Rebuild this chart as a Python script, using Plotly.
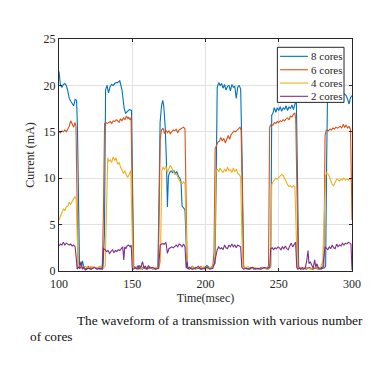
import plotly.graph_objects as go

# ---------------- data ----------------
t_8 = [100, 101, 102, 103, 104, 105, 106, 107, 108, 109, 110, 111, 112, 112.6, 113.3, 114, 115, 116, 117, 118,
       120, 122, 124, 126, 128, 130, 131, 131.8, 132.8, 133.8, 135, 136, 137, 138, 139, 140, 141.5, 143, 144.5,
       145.5, 147, 148, 149.5, 150.3, 151, 152, 153, 154, 155, 156, 157, 158, 160, 162, 164, 166, 167.5, 168.3,
       169, 170, 170.8, 171.5, 172.5, 173.3, 174, 174.7, 175.5, 176.5, 177.5, 178.5, 179.5, 180.5, 181.5, 182.5,
       183.3, 184, 185, 186, 186.8, 187.5, 189, 191, 193, 195, 197, 199, 201, 203, 205, 206.5, 207.3, 208, 209,
       210, 211, 212, 213, 214, 215, 216, 217, 218, 219, 220, 221, 222, 223, 224, 225, 226, 227, 229, 231, 233,
       235, 237, 239, 241, 243, 244.5, 245.2, 246, 247, 248, 249, 250, 251, 252, 253, 254, 255, 256, 257, 258,
       259, 260, 261, 262, 262.8, 263.6, 265, 267, 269, 271, 273, 275, 277, 279, 281, 282, 282.7, 283.3, 284,
       286, 288, 290, 292, 294, 296, 297, 298, 299, 300]
i_8 = [21.5, 20.0, 19.8, 20.1, 20.2, 20.0, 19.4, 18.6, 18.3, 18.1, 17.8, 18.5, 18.4, 15.5, 6.0, 0.5, 0.3, 1.1, 0.3, 0.2,
       0.3, 0.2, 0.4, 0.3, 0.2, 0.3, 4.0, 19.5, 20.0, 19.2, 19.9, 20.1, 20.0, 20.2, 20.3, 20.3, 20.5, 19.5, 17.5,
       17.0, 17.2, 17.4, 17.3, 10.0, 0.5, 0.3, 0.4, 0.2, 0.6, 0.3, 0.2, 0.5, 0.2, 0.4, 0.2, 0.3, 0.4, 8.0,
       16.0, 17.8, 18.4, 17.8, 15.5, 12.0, 6.9, 10.2, 10.6, 10.8, 10.6, 10.8, 10.5, 10.7, 10.2, 10.0,
       9.6, 7.0, 6.8, 6.6, 3.0, 0.3, 0.2, 0.5, 0.2, 0.3, 0.2, 0.3, 0.6, 0.3, 0.5, 0.8, 10.0, 19.8, 20.3,
       20.0, 20.2, 19.7, 20.1, 19.5, 19.9, 20.0, 19.4, 20.1, 19.8, 19.9, 18.6, 19.8, 20.0, 19.6, 12.0, 0.5, 0.3, 0.2, 0.4, 0.2,
       0.3, 0.2, 0.4, 0.3, 0.2, 0.5, 16.8, 17.0, 17.6, 17.1, 17.6, 17.3, 17.7, 17.2, 17.6, 17.4, 17.8, 17.3, 17.7, 17.5,
       17.9, 17.4, 18.0, 18.5, 10.0, 0.4, 0.2, 0.3, 0.2, 0.4, 0.2, 0.3, 0.2, 0.4, 0.3, 0.5, 12.0, 19.0, 19.3,
       19.0, 19.4, 19.1, 19.5, 19.2, 18.9, 18.5, 18.0, 18.7, 18.9]

t_6 = [100, 101, 102, 103, 104, 105, 106, 107, 108, 109, 110, 111, 111.6, 112.3, 113, 114, 116, 118, 120, 122, 124,
       126, 128, 129.5, 130.3, 131.1, 132, 133, 134, 135, 136, 137, 138, 139, 140, 141, 142, 143, 144, 145, 146,
       147, 147.5, 148.5, 149.2, 150, 150.8, 152, 154, 156, 158, 160, 162, 164, 166, 167.8, 168.5, 169.1, 170,
       171, 172, 173, 174, 175, 176, 177, 178, 179, 180, 181, 182, 183, 184, 185, 186, 186.8, 187.5, 189, 191,
       193, 195, 197, 199, 201, 203, 205, 205.8, 206.6, 207.5, 208.5, 209.5, 210.5, 211.5, 212.5, 213.5, 214.5,
       215.5, 216.5, 217.5, 218.5, 219.5, 220.5, 221.5, 222.5, 223.5, 224.3, 225.2, 226, 228, 230, 232, 234, 236,
       238, 240, 242, 243, 243.8, 244.7, 246, 247, 248, 249, 250, 251, 252, 253, 254, 255, 256, 257, 258, 259,
       260, 261, 261.6, 262.5, 263.3, 265, 267, 269, 271, 273, 275, 277, 279, 280.8, 281.6, 282.5, 284, 285, 286,
       287, 288, 289, 290, 291, 292, 293, 294, 295, 296, 297, 298, 299, 300]
i_6 = [15.0, 14.9, 15.1, 15.0, 15.2, 15.0, 15.3, 15.6, 16.2, 15.8, 15.5, 16.0, 15.6, 8.0, 0.5, 0.3, 0.4, 0.2, 0.5, 0.3, 0.4,
       0.2, 0.5, 0.3, 6.0, 15.9, 16.0, 15.9, 16.0, 16.1, 15.9, 16.2, 16.1, 16.3, 16.2, 16.0, 16.4, 16.2, 16.5, 16.3, 16.7,
       16.4, 16.6, 16.3, 16.5, 8.0, 0.5, 0.4, 0.2, 0.5, 0.3, 0.2, 0.4, 0.3, 0.2, 0.4, 10.0, 14.3, 15.2,
       15.4, 14.8, 15.2, 14.9, 15.1, 14.8, 15.0, 15.2, 15.1, 15.3, 14.9, 15.2, 15.3, 15.4, 15.5, 15.3, 7.0, 0.4, 0.3, 0.2,
       0.4, 0.3, 0.5, 0.2, 0.4, 0.3, 0.5, 2.0, 13.2, 13.6, 13.9, 14.0, 14.4, 14.0, 14.3, 13.8, 14.3,
       14.6, 14.2, 14.7, 14.9, 15.1, 15.0, 15.2, 15.3, 15.5, 15.2, 6.0, 0.4, 0.3, 0.2, 0.4, 0.3, 0.2,
       0.4, 0.3, 0.2, 0.6, 15.5, 15.8, 15.7, 16.0, 15.9, 16.1, 16.0, 16.2, 16.1, 16.3, 16.2, 16.4, 16.5, 16.3, 16.7, 16.6,
       16.9, 17.0, 16.4, 8.0, 0.5, 0.3, 0.2, 0.4, 0.3, 0.2, 0.3, 0.4, 0.2, 0.5, 14.6, 15.2, 15.1, 15.3, 15.2,
       15.4, 15.3, 15.5, 15.4, 15.5, 15.6, 15.4, 15.8, 15.5, 15.7, 15.4, 15.6, 15.2, 5.5]

t_4 = [100, 101, 102, 103, 104, 105, 106, 107, 108, 109, 110, 111, 111.8, 112.6, 113.3, 114, 116, 118, 120, 122, 124,
       126, 128, 130, 131.5, 132.5, 133.3, 134, 135, 136, 137, 138, 139, 140, 141, 142, 143, 144, 145, 146, 147,
       148, 149, 149.8, 150.6, 152, 154, 156, 158, 160, 162, 164, 166, 168, 169.2, 170.2, 171, 172, 173, 174,
       175, 176, 177, 178, 179, 180, 181, 182, 183, 184, 185, 186, 186.8, 187.5, 189, 191, 193, 195, 197, 199,
       201, 203, 205, 206.3, 207, 208, 209, 210, 211, 212, 213, 214, 215, 216, 217, 218, 219, 220, 221, 222,
       223, 224, 224.8, 225.6, 227, 229, 231, 233, 235, 237, 239, 241, 243, 244.5, 245.2, 246, 247, 248, 249,
       250, 251, 252, 253, 254, 255, 256, 257, 258, 259, 260, 261, 261.8, 262.6, 264, 266, 268, 270, 272, 274,
       276, 278, 280, 282, 282.7, 283.5, 284.5, 285.5, 286.5, 287.5, 288.5, 289.5, 290.5, 291.5, 292.5, 293.5,
       294.5, 295.5, 296.5, 297.5, 298.5, 299.5, 300]
i_4 = [5.5, 5.9, 6.2, 6.7, 6.5, 6.9, 7.0, 7.4, 7.2, 7.6, 7.8, 8.0, 7.7, 3.0, 0.4, 0.6, 0.4, 0.5, 0.3, 0.5, 0.4,
       0.3, 0.5, 0.3, 0.5, 8.0, 12.2, 11.8, 12.0, 11.7, 12.3, 11.9, 12.2, 11.5, 11.7, 11.2, 10.8, 10.5, 10.8, 10.3, 10.1,
       10.5, 10.8, 5.0, 0.4, 0.3, 0.5, 0.2, 0.4, 0.3, 0.5, 0.2, 0.4, 0.3, 1.0, 10.8, 11.2, 10.9, 11.3, 10.6,
       11.0, 11.4, 11.1, 10.8, 10.4, 10.5, 10.2, 9.8, 9.5, 9.4, 9.6, 9.4, 4.0, 0.4, 0.3, 0.5, 0.2, 0.4, 0.3, 0.5,
       0.2, 0.4, 0.4, 1.0, 10.6, 11.0, 10.7, 11.1, 10.8, 10.6, 11.0, 10.7, 11.2, 10.8, 10.9, 10.6, 11.1, 10.7, 11.0, 10.5,
       10.4, 10.1, 4.0, 0.4, 0.3, 0.5, 0.2, 0.4, 0.3, 0.2, 0.4, 0.3, 0.2, 0.5, 9.3, 9.6, 9.8, 10.0, 9.9,
       10.1, 10.3, 10.4, 10.3, 9.9, 9.6, 9.3, 9.1, 9.2, 9.0, 9.2, 9.1, 4.0, 0.4, 0.3, 0.2, 0.4, 0.3, 0.2,
       0.4, 0.3, 0.2, 1.0, 10.3, 10.6, 10.5, 10.2, 9.8, 9.3, 9.2, 9.6, 9.9, 9.8, 9.7, 9.9,
       9.8, 10.0, 9.8, 9.9, 9.8, 9.9, 9.8]

t_2 = [100, 101, 102, 103, 104, 105, 106, 107, 108, 109, 110, 111, 111.7, 112.4, 113, 114, 115, 116, 117, 118, 120,
       122, 124, 126, 128, 129.5, 130.4, 131.5, 132.5, 133.5, 134.5, 135.5, 136.5, 137.5, 138.5, 139.5, 140.5,
       141.5, 142.5, 143.5, 144.2, 144.9, 145.6, 146.5, 147.5, 148.5, 149.3, 150, 151, 152, 153, 154, 155, 156,
       157, 158, 159, 160, 161, 162, 164, 166, 168, 169.1, 170, 171, 172, 173, 174, 175, 176, 177, 178, 179,
       180, 181, 182, 183, 184, 185, 186, 186.8, 187.5, 188, 189, 191, 193, 195, 197, 199, 201, 203, 205, 206,
       207, 208, 209, 210, 211, 212, 213, 214, 215, 216, 217, 218, 219, 220, 221, 222, 223, 224, 224.8, 226,
       228, 230, 232, 234, 236, 238, 240, 242, 243.8, 244.5, 245.5, 246.5, 247.5, 248.5, 249.5, 250.5, 251.5,
       252.5, 253.5, 254.5, 255.5, 256.5, 257.5, 258.5, 259.5, 260.5, 261.5, 262.3, 263, 264, 265, 266, 267,
       268, 269, 270, 270.6, 271.5, 272.5, 273.5, 274.5, 275.3, 276, 277, 278, 280, 281.6, 282.5, 283.5, 284.5,
       285.5, 286.5, 287.5, 288.5, 289.5, 290.5, 291.5, 292.5, 293.5, 294.5, 295.5, 296.5, 297.5, 298.5, 299.3,
       300]
i_2 = [2.7, 2.9, 2.8, 3.1, 2.8, 3.0, 2.9, 2.8, 2.9, 2.7, 2.8, 2.6, 1.5, 0.2, 0.4, 0.3, 1.0, 0.2, 0.4, 0.1, 0.3,
       0.2, 0.4, 0.2, 0.3, 0.2, 2.4, 2.3, 2.1, 2.2, 1.9, 2.1, 2.3, 2.0, 2.2, 2.1, 2.3,
       2.2, 2.4, 2.6, 1.2, 2.6, 2.4, 2.7, 2.8, 2.6, 2.8, 0.3, 0.2, 0.4, 0.2, 0.6, 0.2, 0.5,
       1.0, 0.3, 0.5, 0.2, 0.6, 0.3, 0.4, 0.2, 0.3, 2.8, 2.9, 2.95, 2.9, 3.1, 1.9, 2.4, 2.5, 2.6, 2.5, 2.7,
       2.8, 2.6, 2.9, 2.8, 2.6, 2.9, 2.6, 0.3, 1.0, 0.2, 0.4, 0.2, 0.3, 0.5, 0.2, 0.3, 0.4, 0.2, 0.3, 0.8,
       1.6, 2.3, 2.6, 2.4, 2.5, 2.3, 2.8, 2.5, 2.4, 2.8, 2.6, 2.9, 2.6, 2.8, 2.5, 2.8, 2.7, 2.6, 0.4, 0.2,
       0.3, 0.2, 0.4, 0.2, 0.3, 0.2, 0.4, 0.3, 0.4, 2.4, 2.5, 2.3, 2.5, 2.4, 2.6, 2.5, 2.3,
       2.6, 2.4, 2.7, 2.4, 2.3, 2.7, 3.0, 2.6, 2.9, 3.1, 0.4, 0.2, 0.3, 0.2, 0.4, 0.2,
       0.3, 1.0, 2.2, 0.8, 1.0, 0.7, 0.3, 1.2, 0.4, 0.8, 0.3, 0.2, 0.3, 2.6, 2.5, 2.3, 2.6,
       2.4, 2.8, 2.5, 2.4, 2.9, 2.6, 2.8, 2.7, 3.0, 2.8, 3.0, 2.9, 3.1, 3.0, 2.9,
       0.1]

series_names = ["8 cores", "6 cores", "4 cores", "2 cores"]
series_colors = ["#0072BD", "#D95319", "#EDB120", "#7E2F8E"]
x_ticks = [100, 150, 200, 250, 300]
y_ticks = [0, 5, 10, 15, 20, 25]
caption_line1 = "The waveform of a transmission with various number"
caption_line2 = "of cores"

# ---------------- figure ----------------
SERIF = "Liberation Serif, Times New Roman, serif"
INK = "#262626"
fig = go.Figure()
for name, color, tx, ty in zip(series_names, series_colors, [t_8, t_6, t_4, t_2], [i_8, i_6, i_4, i_2]):
    fig.add_trace(go.Scatter(x=tx, y=ty, mode="lines", name=name,
                             line=dict(color=color, width=1.1)))

axis_common = dict(showline=True, linecolor=INK, linewidth=1, mirror="ticks",
                   ticks="inside", ticklen=3, tickcolor=INK,
                   showgrid=True, gridcolor="#e2e2e2", gridwidth=1, zeroline=False,
                   tickfont=dict(family=SERIF, size=12, color=INK))

fig.update_layout(
    width=373, height=376,
    margin=dict(l=51, r=29, t=31, b=113),
    paper_bgcolor="white", plot_bgcolor="white",
    font=dict(family=SERIF, size=12, color=INK),
    showlegend=False,
    xaxis=dict(range=[100, 300], tickvals=x_ticks, ticktext=[str(v) for v in x_ticks],
               ticklabelstandoff=2,
               title=dict(text="Time(msec)", font=dict(family=SERIF, size=12, color=INK), standoff=2),
               **axis_common),
    yaxis=dict(range=[0, 25], tickvals=y_ticks, ticktext=[str(v) for v in y_ticks],
               title=dict(text="Current (mA)", font=dict(family=SERIF, size=12, color=INK), standoff=6),
               **axis_common),
)

# compact legend box (MATLAB style), drawn in paper coordinates
leg_x0, leg_x1, leg_y0, leg_y1 = 0.7453, 0.9727, 0.7268, 0.9642
fig.add_shape(type="rect", xref="paper", yref="paper", x0=leg_x0, x1=leg_x1, y0=leg_y0, y1=leg_y1,
              fillcolor="white", line=dict(color=INK, width=1), layer="above")
row_y = [0.9253, 0.8675, 0.8101, 0.7530]
for name, color, ry in zip(series_names, series_colors, row_y):
    fig.add_shape(type="line", xref="paper", yref="paper", x0=0.7545, x1=0.8502, y0=ry, y1=ry,
                  line=dict(color=color, width=1.1), layer="above")
    fig.add_annotation(text=name, xref="paper", yref="paper", x=0.8540, y=ry,
                       xanchor="left", yanchor="middle", showarrow=False,
                       font=dict(family=SERIF, size=11, color=INK))

fig.add_annotation(text=caption_line1, xref="paper", yref="paper", x=0.0556, y=-0.2128,
                   xanchor="left", yanchor="middle", showarrow=False,
                   font=dict(family=SERIF, size=13.3, color="#111111"))
fig.add_annotation(text=caption_line2, xref="paper", yref="paper", x=-0.1047, y=-0.282,
                   xanchor="left", yanchor="middle", showarrow=False,
                   font=dict(family=SERIF, size=13.3, color="#111111"))

fig.write_html("out.html")
